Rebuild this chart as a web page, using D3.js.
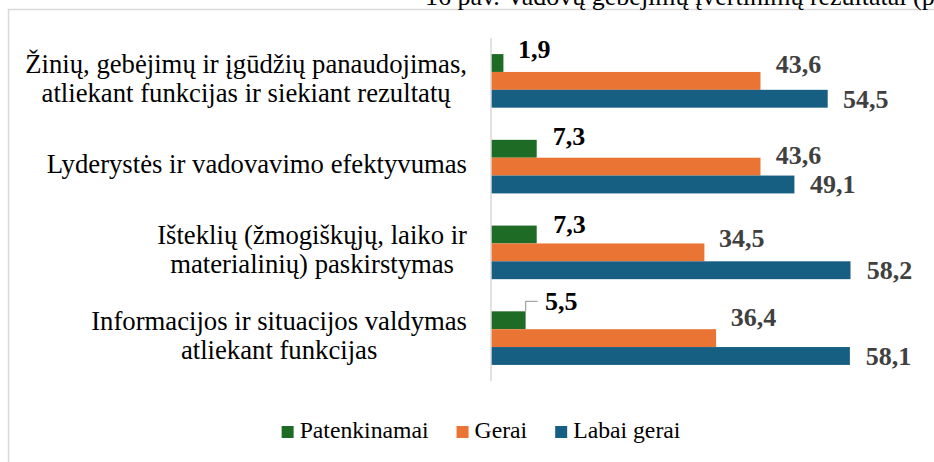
<!DOCTYPE html>
<html>
<head>
<meta charset="utf-8">
<script src="https://cdn.jsdelivr.net/npm/d3@7"></script>
<style>
  html, body { margin: 0; padding: 0; background: #fff; }
  svg { display: block; }
  text { font-family: "Liberation Serif", "Times New Roman", serif; }
</style>
</head>
<body>
<svg id="chart" width="934" height="462"></svg>
<script>
// ---- data ----
const categories = [
  ["Žinių, gebėjimų ir įgūdžių panaudojimas,", "atliekant funkcijas ir siekiant rezultatų"],
  ["Lyderystės ir vadovavimo efektyvumas"],
  ["Išteklių (žmogiškųjų, laiko ir", "materialinių) paskirstymas"],
  ["Informacijos ir situacijos valdymas", "atliekant funkcijas"]
];
const seriesNames = ["Patenkinamai", "Gerai", "Labai gerai"];
const patenkinamai = [1.9, 7.3, 7.3, 5.5];
const gerai = [43.6, 43.6, 34.5, 36.4];
const labaiGerai = [54.5, 49.1, 58.2, 58.1];
const valueLabels = [
  ["1,9", "7,3", "7,3", "5,5"],
  ["43,6", "43,6", "34,5", "36,4"],
  ["54,5", "49,1", "58,2", "58,1"]
];
const titleText = "16 pav. Vadovų gebėjimų įvertinimų rezultatai (proc.)";

// ---- layout / style constants ----
const colors = ["#1e6b25", "#ea7434", "#175f82"];
const labelColors = ["#000000", "#404040", "#404040"];
// label baseline offsets relative to bar centre (manual placement in original)
const labelDy = [
  [-5, -4, -1.3, -10],
  [-8.3, -3, -5.3, -12],
  [8.9, 8.7, 8.7, 8.6]
];
const labelDx = [
  [14.6, 16, 16.6, 19.4],
  [15.2, 15.2, 14.6, 14.6],
  [15.3, 15.6, 16.2, 15.8]
];

const svg = d3.select("#chart");

// chart border
svg.append("rect")
  .attr("x", 8.5).attr("y", 9.5)
  .attr("width", 1000).attr("height", 1000)
  .attr("fill", "none").attr("stroke", "#d9d9d9").attr("stroke-width", 1.5);

// title (clipped by the top edge, as in the original)
svg.append("text")
  .attr("x", 425).attr("y", 5)
  .attr("font-size", 26).attr("fill", "#000")
  .text(titleText);

const series = [patenkinamai, gerai, labaiGerai];

const y = d3.scaleBand()
  .domain(d3.range(categories.length))
  .range([38, 381])
  .paddingInner(0.375)
  .paddingOuter(0.1875);

const yInner = d3.scaleBand()
  .domain(d3.range(series.length))
  .range([0, y.bandwidth()]);

const x = d3.scaleLinear().domain([0, 70]).range([491.7, 923.25]);

// axis line
svg.append("line")
  .attr("x1", 491).attr("x2", 491)
  .attr("y1", y.range()[0]).attr("y2", y.range()[1])
  .attr("stroke", "#d9d9d9").attr("stroke-width", 1.5);

// bars
series.forEach((vals, s) => {
  svg.append("g").selectAll("rect")
    .data(vals)
    .join("rect")
    .attr("x", x(0))
    .attr("y", (d, i) => y(i) + yInner(s))
    .attr("width", d => x(d) - x(0))
    .attr("height", yInner.bandwidth())
    .attr("fill", colors[s]);
});

// leader line for 5,5
{
  const i = 3, s = 0;
  const bx = x(series[s][i]);
  const by = y(i) + yInner(s);
  svg.append("path")
    .attr("d", `M${bx},${by} V${by - 10} H${bx + 12}`)
    .attr("fill", "none").attr("stroke", "#a6a6a6").attr("stroke-width", 1.3);
}

// value labels
series.forEach((vals, s) => {
  svg.append("g").selectAll("text")
    .data(vals)
    .join("text")
    .attr("x", (d, i) => x(d) + labelDx[s][i])
    .attr("y", (d, i) => y(i) + yInner(s) + yInner.bandwidth() / 2 + labelDy[s][i])
    .attr("font-size", 26)
    .attr("font-weight", "bold")
    .attr("fill", labelColors[s])
    .text((d, i) => valueLabels[s][i]);
});

// category labels: block right aligned, lines centred within block
const labelRight = 467;
categories.forEach((lines, i) => {
  const g = svg.append("g");
  const cy = y(i) + y.bandwidth() / 2 + 6.5;
  const lh = 29;
  const texts = lines.map((ln, k) =>
    g.append("text")
      .attr("y", cy + (k - (lines.length - 1) / 2) * lh)
      .attr("font-size", 26.7)
      .attr("fill", "#000")
      .attr("text-anchor", "middle")
      .text(ln));
  const maxW = d3.max(texts, t => t.node().getComputedTextLength());
  texts.forEach(t => t.attr("x", labelRight - maxW / 2));
});

// legend
const legend = svg.append("g");
let lx = 0;
seriesNames.forEach((name, s) => {
  const g = legend.append("g");
  g.append("rect").attr("x", 0).attr("y", 426).attr("width", 12).attr("height", 12).attr("fill", colors[s]);
  const t = g.append("text").attr("x", 18).attr("y", 438.3).attr("font-size", 23.7).attr("fill", "#000").text(name);
  const w = 18 + t.node().getComputedTextLength();
  g.attr("transform", `translate(${lx},0)`);
  lx += w + 28;
});
const totalW = lx - 28;
legend.attr("transform", `translate(${481 - totalW / 2},0)`);
</script>
</body>
</html>
